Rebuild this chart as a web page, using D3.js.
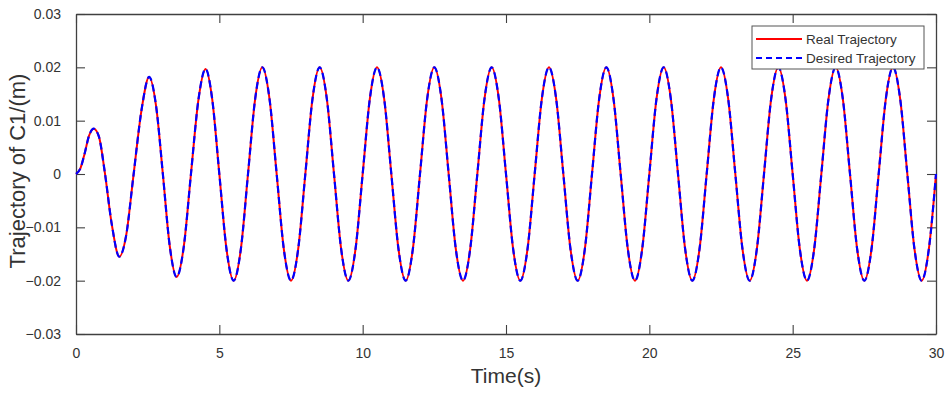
<!DOCTYPE html>
<html>
<head>
<meta charset="utf-8">
<script src="https://cdn.jsdelivr.net/npm/d3@7"></script>
<style>
	body { margin: 0; background: #fff; }
	svg { display: block; font-family: "Liberation Sans", Arial, sans-serif; }
</style>
</head>
<body>
<div id="chart-placeholder"></div>
<script>

// time samples (s)
let timeS = [0, 0.15, 0.3, 0.45, 0.62, 0.8, 1.0, 1.25, 1.51, 1.75, 2.0, 2.3, 2.55, 2.8, 3.03, 3.27, 3.51, 3.76, 4.01, 4.27, 4.52,
	4.75, 5, 5.25, 5.5, 5.75, 6, 6.25, 6.5, 6.75, 7, 7.25, 7.5, 7.75, 8, 8.25, 8.5, 8.75, 9, 9.25, 9.5, 9.75, 10,
	10.25, 10.5, 10.75, 11, 11.25, 11.5, 11.75, 12, 12.25, 12.5, 12.75, 13, 13.25, 13.5, 13.75, 14, 14.25, 14.5, 14.75, 15,
	15.25, 15.5, 15.75, 16, 16.25, 16.5, 16.75, 17, 17.25, 17.5, 17.75, 18, 18.25, 18.5, 18.75, 19, 19.25, 19.5, 19.75, 20,
	20.25, 20.5, 20.75, 21, 21.25, 21.5, 21.75, 22, 22.25, 22.5, 22.75, 23, 23.25, 23.5, 23.75, 24, 24.25, 24.5, 24.75, 25,
	25.25, 25.5, 25.75, 26, 26.25, 26.5, 26.75, 27, 27.25, 27.5, 27.75, 28, 28.25, 28.5, 28.75, 29, 29.25, 29.5, 29.75, 30];

// real trajectory of C1 (m)
let realC1 = [0, 0.0010, 0.0038, 0.0071, 0.0085, 0.0070, 0.0005, -0.0095, -0.0155, -0.0115, -0.0005, 0.0125, 0.0182, 0.0125, 0, -0.0135, -0.0193, -0.0136, 0, 0.0139, 0.0197,
	0.0141, 0, -0.0141, -0.02, -0.0141, 0, 0.0141, 0.02, 0.0141, 0, -0.0141, -0.02, -0.0141, 0, 0.0141, 0.02, 0.0141, 0, -0.0141, -0.02, -0.0141, 0,
	0.0141, 0.02, 0.0141, 0, -0.0141, -0.02, -0.0141, 0, 0.0141, 0.02, 0.0141, 0, -0.0141, -0.02, -0.0141, 0, 0.0141, 0.02, 0.0141, 0,
	-0.0141, -0.02, -0.0141, 0, 0.0141, 0.02, 0.0141, 0, -0.0141, -0.02, -0.0141, 0, 0.0141, 0.02, 0.0141, 0, -0.0141, -0.02, -0.0141, 0,
	0.0141, 0.02, 0.0141, 0, -0.0141, -0.02, -0.0141, 0, 0.0141, 0.02, 0.0141, 0, -0.0141, -0.02, -0.0141, 0, 0.0141, 0.02, 0.0141, 0,
	-0.0141, -0.02, -0.0141, 0, 0.0141, 0.02, 0.0141, 0, -0.0141, -0.02, -0.0141, 0, 0.0141, 0.02, 0.0141, 0, -0.0141, -0.02, -0.0141, 0];

// desired trajectory of C1 (m), follows the real one on this scale
let desiredC1 = [0, 0.0010, 0.0038, 0.0071, 0.0085, 0.0070, 0.0005, -0.0095, -0.0155, -0.0115, -0.0005, 0.0125, 0.0182, 0.0125, 0, -0.0135, -0.0193, -0.0136, 0, 0.0139, 0.0197,
	0.0141, 0, -0.0141, -0.02, -0.0141, 0, 0.0141, 0.02, 0.0141, 0, -0.0141, -0.02, -0.0141, 0, 0.0141, 0.02, 0.0141, 0, -0.0141, -0.02, -0.0141, 0,
	0.0141, 0.02, 0.0141, 0, -0.0141, -0.02, -0.0141, 0, 0.0141, 0.02, 0.0141, 0, -0.0141, -0.02, -0.0141, 0, 0.0141, 0.02, 0.0141, 0,
	-0.0141, -0.02, -0.0141, 0, 0.0141, 0.02, 0.0141, 0, -0.0141, -0.02, -0.0141, 0, 0.0141, 0.02, 0.0141, 0, -0.0141, -0.02, -0.0141, 0,
	0.0141, 0.02, 0.0141, 0, -0.0141, -0.02, -0.0141, 0, 0.0141, 0.02, 0.0141, 0, -0.0141, -0.02, -0.0141, 0, 0.0141, 0.02, 0.0141, 0,
	-0.0141, -0.02, -0.0141, 0, 0.0141, 0.02, 0.0141, 0, -0.0141, -0.02, -0.0141, 0, 0.0141, 0.02, 0.0141, 0, -0.0141, -0.02, -0.0141, 0];

let xTicks = [0, 5, 10, 15, 20, 25, 30];
let yTicks = [-0.03, -0.02, -0.01, 0, 0.01, 0.02, 0.03];
let yTickLabels = ["\u22120.03", "\u22120.02", "\u22120.01", "0", "0.01", "0.02", "0.03"];
let legendNames = ["Real Trajectory", "Desired Trajectory"];

function drawTrajectoryChart() {
	let width = 952, height = 396;
	let left = 76, right = 936, top = 14, bottom = 334;
	let axisColor = "#404040";

	let svg = d3.select("#chart-placeholder")
		.append("svg")
		.attr("width", width)
		.attr("height", height);

	let xScale = d3.scaleLinear().domain([0, 30]).range([left, right]);
	let yScale = d3.scaleLinear().domain([-0.03, 0.03]).range([bottom, top]);

	let tickFmt = d => yTickLabels[yTicks.indexOf(d)];

	// axes, MATLAB style: ticks inward, box on
	let gx = svg.append("g")
		.attr("transform", `translate(0, ${bottom})`)
		.call(d3.axisBottom(xScale).tickValues(xTicks).tickSizeInner(-9).tickSizeOuter(0).tickPadding(14));
	let gxTop = svg.append("g")
		.attr("transform", `translate(0, ${top})`)
		.call(d3.axisTop(xScale).tickValues(xTicks).tickSizeInner(-9).tickSizeOuter(0).tickFormat(""));
	let gy = svg.append("g")
		.attr("transform", `translate(${left}, 0)`)
		.call(d3.axisLeft(yScale).tickValues(yTicks).tickSizeInner(-9).tickSizeOuter(0).tickPadding(15).tickFormat(tickFmt));
	let gyRight = svg.append("g")
		.attr("transform", `translate(${right}, 0)`)
		.call(d3.axisRight(yScale).tickValues(yTicks).tickSizeInner(-9).tickSizeOuter(0).tickFormat(""));

	[gx, gxTop, gy, gyRight].forEach(g => {
		g.select(".domain").attr("stroke", axisColor).attr("stroke-width", 1.3);
		g.selectAll(".tick line").attr("stroke", axisColor).attr("stroke-width", 1.1);
		g.selectAll(".tick text").attr("fill", "#333").style("font-size", "14px").style("font-family", "Liberation Sans, Arial, sans-serif");
	});

	// curves
	let line = d3.line()
		.x((d, i) => xScale(timeS[i]))
		.y(d => yScale(d))
		.curve(d3.curveMonotoneX);

	svg.append("path")
		.datum(realC1)
		.attr("d", line)
		.attr("fill", "none")
		.attr("stroke", "#ff0000")
		.attr("stroke-width", 2);

	svg.append("path")
		.datum(desiredC1)
		.attr("d", line)
		.attr("fill", "none")
		.attr("stroke", "#0000ff")
		.attr("stroke-width", 2.2)
		.attr("stroke-dasharray", "7,4");

	// axis labels
	svg.append("text")
		.attr("x", 506)
		.attr("y", 383)
		.attr("text-anchor", "middle")
		.attr("fill", "#333")
		.style("font-size", "21px")
		.text("Time(s)");

	svg.append("text")
		.attr("transform", "translate(25, 171) rotate(-90)")
		.attr("text-anchor", "middle")
		.attr("fill", "#333")
		.style("font-size", "22px")
		.text("Trajectory of C1/(m)");

	// legend
	let legend = svg.append("g").attr("transform", "translate(752, 26)");
	legend.append("rect")
		.attr("width", 172)
		.attr("height", 43)
		.attr("fill", "#fff")
		.attr("stroke", "#555")
		.attr("stroke-width", 1);

	let colors = ["#ff0000", "#0000ff"];
	let dashes = [null, "6,4"];
	legendNames.forEach((name, i) => {
		let y = 13 + i * 19;
		legend.append("line")
			.attr("x1", 4).attr("x2", 50)
			.attr("y1", y).attr("y2", y)
			.attr("stroke", colors[i])
			.attr("stroke-width", 2)
			.attr("stroke-dasharray", dashes[i]);
		legend.append("text")
			.attr("x", 54)
			.attr("y", y + 5)
			.attr("fill", "#333")
			.style("font-size", "13.5px")
			.text(name);
	});
}

drawTrajectoryChart();
</script>
</body>
</html>
